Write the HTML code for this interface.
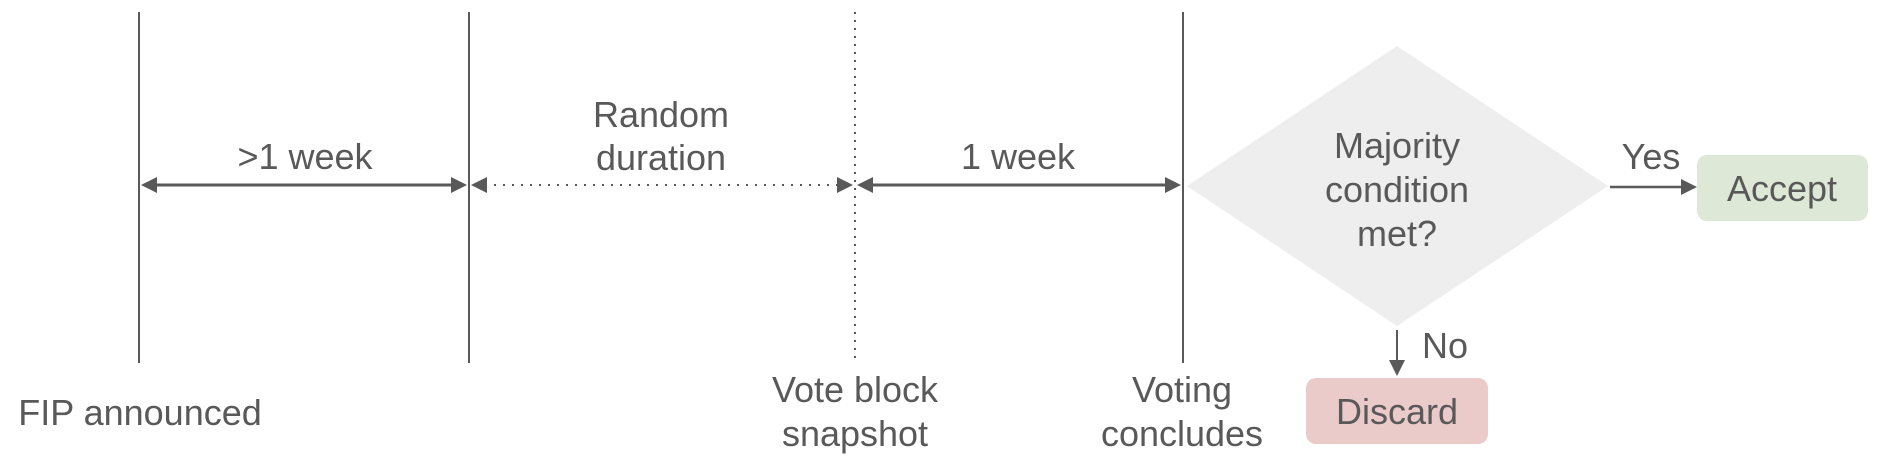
<!DOCTYPE html>
<html><head><meta charset="utf-8"><style>
html,body{margin:0;padding:0;background:#fff;}
svg{display:block;}
text{font-family:"Liberation Sans",Arial,sans-serif;font-size:36px;fill:#595959;}
</style></head><body>
<svg width="1880" height="458" viewBox="0 0 1880 458" xmlns="http://www.w3.org/2000/svg">
<defs>
<marker id="a" viewBox="0 0 10 10" refX="10" refY="5" markerWidth="7" markerHeight="7" orient="auto-start-reverse" markerUnits="userSpaceOnUse">
</marker>
</defs>
<g stroke="#595959" stroke-width="2" fill="none">
<line x1="139" y1="12" x2="139" y2="363"/>
<line x1="469" y1="12" x2="469" y2="363"/>
<line x1="855" y1="12" x2="855" y2="363" stroke-dasharray="2,6"/>
<line x1="1183" y1="12" x2="1183" y2="363"/>
<line x1="155" y1="185" x2="454" y2="185" stroke-width="3"/>
<line x1="485" y1="185" x2="840" y2="185" stroke-dasharray="2,7"/>
<line x1="872" y1="185" x2="1166" y2="185" stroke-width="3"/>
<line x1="1610" y1="187" x2="1682" y2="187" stroke-width="2.5"/>
<line x1="1397" y1="330" x2="1397" y2="362" stroke-width="2"/>
</g>
<g fill="#595959">
<polygon points="141,185 157,177 157,193"/>
<polygon points="467,185 451,177 451,193"/>
<polygon points="471,185 487,177 487,193"/>
<polygon points="853,185 837,177 837,193"/>
<polygon points="857,185 873,177 873,193"/>
<polygon points="1181,185 1165,177 1165,193"/>
<polygon points="1697,187 1681,179 1681,195"/>
<polygon points="1397,376 1389,360 1405,360"/>
</g>
<polygon points="1397,46 1608,186 1397,326 1187,186" fill="#eeeeee"/>
<rect x="1697" y="155" width="171" height="66" rx="10" fill="#dde9d6"/>
<rect x="1306" y="378" width="182" height="66" rx="10" fill="#ebcaca"/>
<g text-anchor="middle">
<text x="305" y="169">&gt;1 week</text>
<text x="661" y="127">Random</text>
<text x="661" y="170">duration</text>
<text x="1018" y="169">1 week</text>
<text x="1397" y="158">Majority</text>
<text x="1397" y="202">condition</text>
<text x="1397" y="246">met?</text>
<text x="1651" y="169">Yes</text>
<text x="1782" y="201">Accept</text>
<text x="1445" y="358">No</text>
<text x="1397" y="424">Discard</text>
<text x="140" y="425">FIP announced</text>
<text x="855" y="402">Vote block</text>
<text x="855" y="446">snapshot</text>
<text x="1182" y="402">Voting</text>
<text x="1182" y="446">concludes</text>
</g>
</svg>
</body></html>
